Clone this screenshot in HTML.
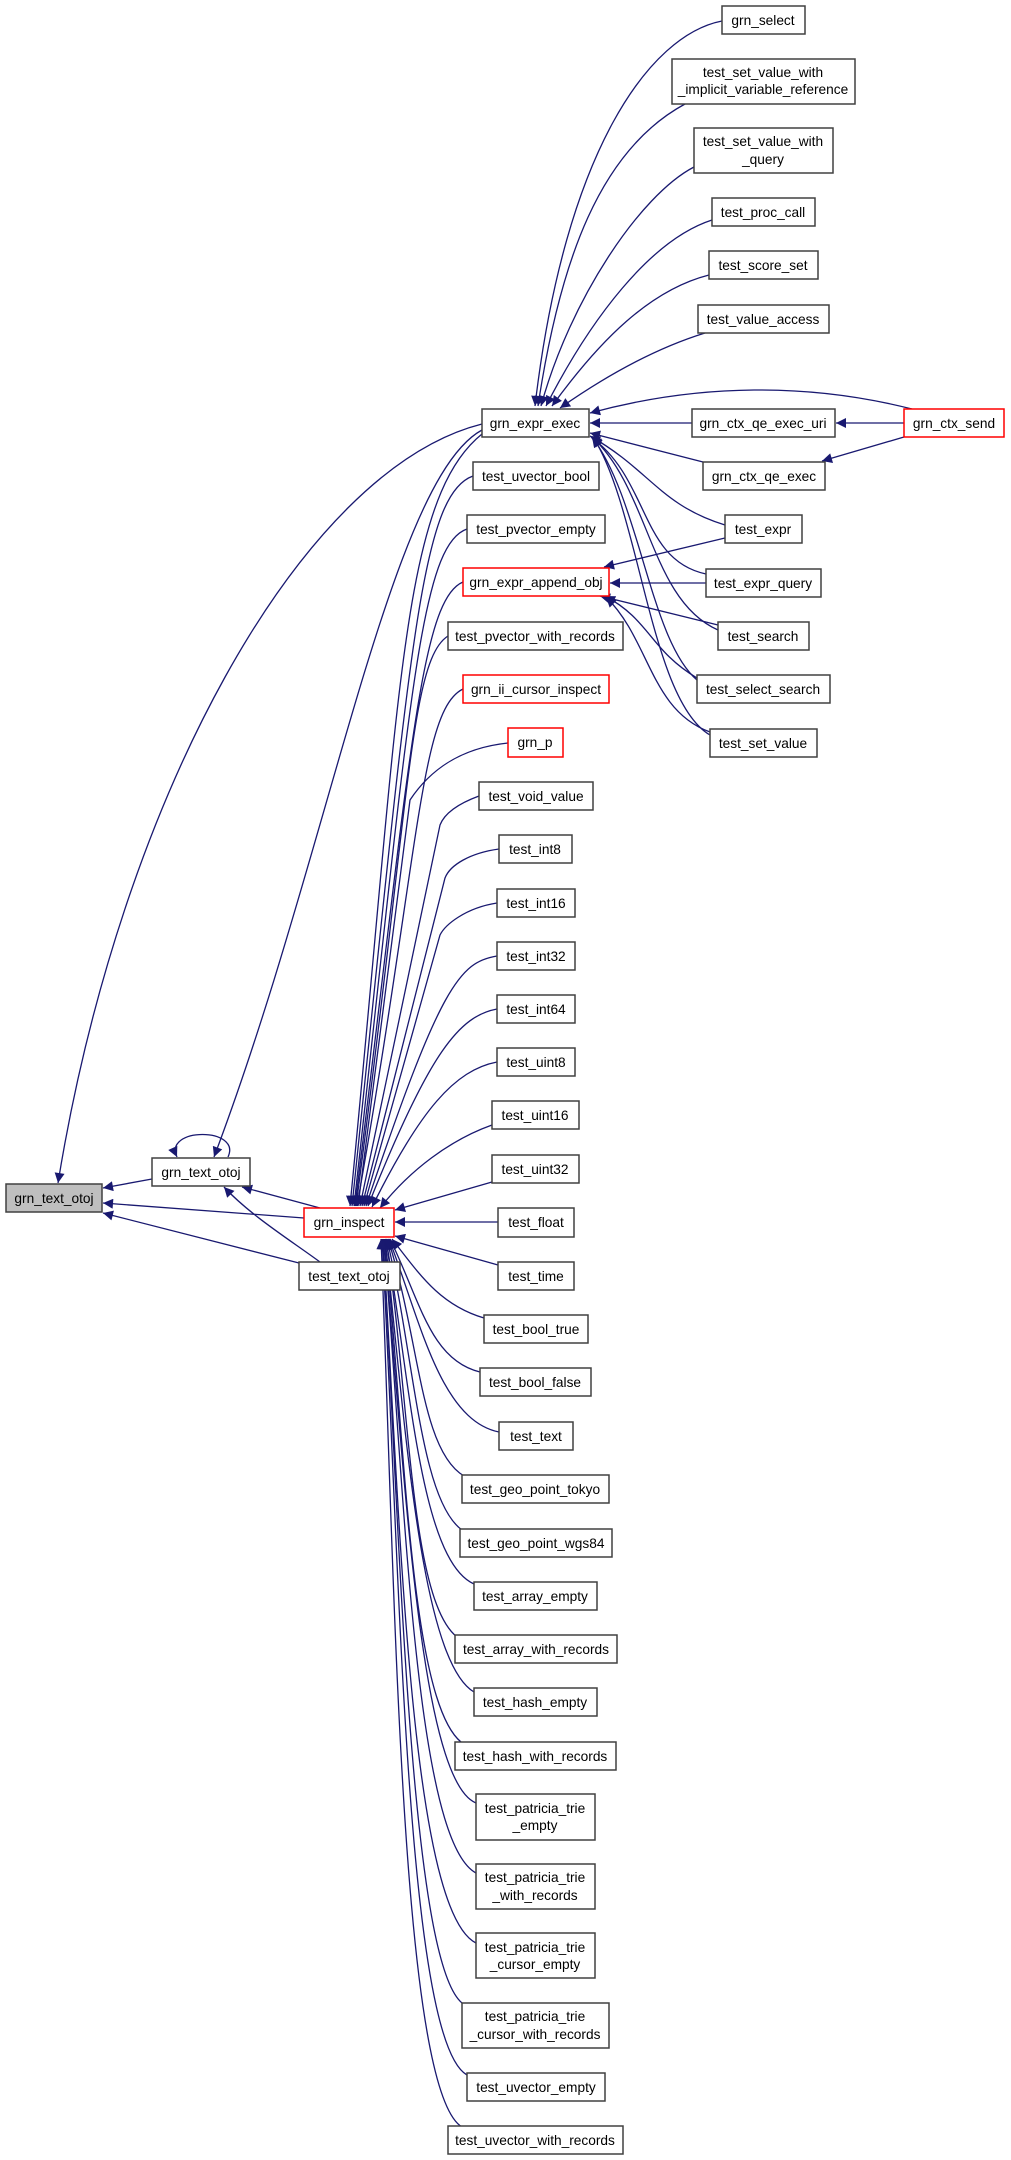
<!DOCTYPE html>
<html><head><meta charset="utf-8"><style>
html,body{margin:0;padding:0;background:#fff;}
svg{display:block}
text{font-family:"Liberation Sans",sans-serif;font-size:13.7px;fill:#000;text-anchor:middle}
.n{fill:#fff;stroke:#404040;stroke-width:1.5}
.r{fill:#fff;stroke:#ff0000;stroke-width:1.5}
.e{fill:none;stroke:#191970;stroke-width:1.3;marker-end:url(#a)}
</style></head><body>
<svg width="1011" height="2160" viewBox="0 0 1011 2160" xmlns="http://www.w3.org/2000/svg">
<defs><marker id="a" viewBox="0 0 10 10" refX="10" refY="5" markerWidth="14" markerHeight="10" markerUnits="userSpaceOnUse" orient="auto"><path d="M0,0 L10,5 L0,10z" fill="#191970"/></marker></defs>

<!-- edges to gray -->
<path class="e" d="M482,424 C300,470 120,800 58,1183"/>
<path class="e" d="M152,1179 L103,1188"/>
<path class="e" d="M304,1218 L103,1203"/>
<path class="e" d="M299,1263 L103,1213"/>
<path class="e" d="M228,1157 C242,1127 163,1127 177,1157"/>
<path class="e" d="M482,430 C390,480 330,850 214,1157"/>
<path class="e" d="M320,1208 L242,1187"/>
<path class="e" d="M320,1262 C290,1240 250,1215 224,1187"/>

<!-- edges to grn_expr_exec -->
<path class="e" d="M722,21 C650,35 565,150 535,406"/>
<path class="e" d="M685,104 C600,150 560,260 538,406"/>
<path class="e" d="M694,167 C640,195 570,300 541,406"/>
<path class="e" d="M712,220 C650,240 590,320 546,406"/>
<path class="e" d="M709,275 C650,290 600,340 552,406"/>
<path class="e" d="M705,333 C650,350 600,380 560,408"/>
<path class="e" d="M912,409 C810,383 700,383 590,413"/>
<path class="e" d="M692,423 L590,423"/>
<path class="e" d="M703,462 L590,433"/>
<path class="e" d="M725,525 C660,505 650,470 590,436"/>
<path class="e" d="M706,574 C640,560 650,480 591,437"/>
<path class="e" d="M718,630 C650,600 650,490 592,437"/>
<path class="e" d="M697,680 C650,640 640,500 592,437"/>
<path class="e" d="M710,735 C650,700 640,510 593,437"/>
<!-- ctx_send -->
<path class="e" d="M904,423 L836,423"/>
<path class="e" d="M904,437 L822,461"/>
<!-- to append_obj -->
<path class="e" d="M725,538 L604,567"/>
<path class="e" d="M706,583 L610,583"/>
<path class="e" d="M718,625 L600,596"/>
<path class="e" d="M697,678 C650,650 650,620 605,596"/>
<path class="e" d="M710,732 C650,710 650,640 606,597"/>

<!-- top edges to grn_inspect -->
<path class="e" d="M482,434 C400,500 400,700 350,1206"/>
<path class="e" d="M473,476 C420,495 410,650 352,1206"/>
<path class="e" d="M467,529 C420,545 410,700 354,1206"/>
<path class="e" d="M463,582 C420,600 410,760 355,1206"/>
<path class="e" d="M448,636 C410,660 410,800 356,1206"/>
<path class="e" d="M463,689 C420,710 420,850 357,1206"/>
<path class="e" d="M508,743 C460,748 430,770 410,800 L358,1206"/>
<path class="e" d="M479,796 C460,803 445,812 440,825 L360,1206"/>
<path class="e" d="M499,849 C470,853 450,865 445,878 L362,1206"/>
<path class="e" d="M497,903 C465,908 445,925 440,935 L364,1206"/>
<path class="e" d="M497,956 C460,962 440,985 366,1206"/>
<path class="e" d="M497,1009 C460,1016 430,1050 368,1206"/>
<path class="e" d="M497,1062 C455,1070 420,1110 372,1207"/>
<path class="e" d="M492,1125 C450,1140 410,1170 380,1208"/>
<path class="e" d="M492,1182 L395,1210"/>
<path class="e" d="M498,1222 L395,1222"/>
<!-- bottom edges -->
<path class="e" d="M498,1265 L395,1236"/>
<path class="e" d="M484,1318 C440,1305 420,1275 392,1239"/>
<path class="e" d="M480,1372 C430,1360 420,1300 390,1239"/>
<path class="e" d="M499,1432 C440,1420 420,1320 389,1239"/>
<path class="e" d="M464,1476 C420,1450 420,1340 388,1239"/>
<path class="e" d="M462,1530 C420,1500 415,1360 387,1239"/>
<path class="e" d="M474,1584 C420,1560 410,1380 386,1239"/>
<path class="e" d="M457,1637 C410,1600 410,1400 386,1239"/>
<path class="e" d="M474,1692 C420,1660 405,1420 385,1239"/>
<path class="e" d="M461,1742 C410,1700 405,1440 385,1239"/>
<path class="e" d="M476,1803 C420,1780 405,1480 384,1239"/>
<path class="e" d="M476,1873 C415,1840 405,1500 384,1239"/>
<path class="e" d="M476,1943 C410,1910 400,1520 383,1239"/>
<path class="e" d="M462,2003 C410,1960 400,1540 383,1239"/>
<path class="e" d="M467,2075 C405,2040 400,1560 382,1239"/>
<path class="e" d="M462,2127 C400,2090 395,1580 381,1239"/>

<!-- nodes -->
<rect x="6" y="1184" width="96" height="28" fill="#bfbfbf" stroke="#404040" stroke-width="1.5"/><text x="54" y="1203">grn_text_otoj</text>
<rect class="n" x="152" y="1158" width="98" height="28"/><text x="201" y="1177">grn_text_otoj</text>
<rect class="r" x="304" y="1208" width="90" height="29"/><text x="349" y="1227">grn_inspect</text>
<rect class="n" x="299" y="1262" width="101" height="28"/><text x="349" y="1281">test_text_otoj</text>
<rect class="n" x="482" y="409" width="107" height="28"/><text x="535" y="428">grn_expr_exec</text>
<rect class="n" x="722" y="6" width="83" height="28"/><text x="763" y="25">grn_select</text>
<rect class="n" x="672" y="59" width="183" height="45"/><text x="763" y="77">test_set_value_with</text><text x="763" y="94">_implicit_variable_reference</text>
<rect class="n" x="694" y="128" width="139" height="45"/><text x="763" y="146">test_set_value_with</text><text x="763" y="164">_query</text>
<rect class="n" x="712" y="198" width="103" height="28"/><text x="763" y="217">test_proc_call</text>
<rect class="n" x="709" y="251" width="109" height="28"/><text x="763" y="270">test_score_set</text>
<rect class="n" x="698" y="305" width="131" height="28"/><text x="763" y="324">test_value_access</text>
<rect class="n" x="692" y="409" width="143" height="28"/><text x="763" y="428">grn_ctx_qe_exec_uri</text>
<rect class="r" x="904" y="409" width="100" height="28"/><text x="954" y="428">grn_ctx_send</text>
<rect class="n" x="473" y="462" width="126" height="28"/><text x="536" y="481">test_uvector_bool</text>
<rect class="n" x="703" y="462" width="122" height="28"/><text x="764" y="481">grn_ctx_qe_exec</text>
<rect class="n" x="467" y="515" width="138" height="28"/><text x="536" y="534">test_pvector_empty</text>
<rect class="n" x="725" y="515" width="77" height="28"/><text x="763" y="534">test_expr</text>
<rect class="r" x="463" y="568" width="146" height="28"/><text x="536" y="587">grn_expr_append_obj</text>
<rect class="n" x="706" y="569" width="115" height="28"/><text x="763" y="588">test_expr_query</text>
<rect class="n" x="448" y="622" width="175" height="28"/><text x="535" y="641">test_pvector_with_records</text>
<rect class="n" x="718" y="622" width="91" height="28"/><text x="763" y="641">test_search</text>
<rect class="r" x="463" y="675" width="146" height="28"/><text x="536" y="694">grn_ii_cursor_inspect</text>
<rect class="n" x="697" y="675" width="133" height="28"/><text x="763" y="694">test_select_search</text>
<rect class="r" x="508" y="728" width="55" height="29"/><text x="535" y="747">grn_p</text>
<rect class="n" x="710" y="729" width="107" height="28"/><text x="763" y="748">test_set_value</text>
<rect class="n" x="479" y="782" width="114" height="28"/><text x="536" y="801">test_void_value</text>
<rect class="n" x="499" y="835" width="73" height="28"/><text x="535" y="854">test_int8</text>
<rect class="n" x="497" y="889" width="78" height="28"/><text x="536" y="908">test_int16</text>
<rect class="n" x="497" y="942" width="78" height="28"/><text x="536" y="961">test_int32</text>
<rect class="n" x="497" y="995" width="78" height="28"/><text x="536" y="1014">test_int64</text>
<rect class="n" x="497" y="1048" width="78" height="28"/><text x="536" y="1067">test_uint8</text>
<rect class="n" x="492" y="1101" width="87" height="28"/><text x="535" y="1120">test_uint16</text>
<rect class="n" x="492" y="1155" width="87" height="28"/><text x="535" y="1174">test_uint32</text>
<rect class="n" x="498" y="1208" width="76" height="29"/><text x="536" y="1227">test_float</text>
<rect class="n" x="498" y="1262" width="76" height="28"/><text x="536" y="1281">test_time</text>
<rect class="n" x="484" y="1315" width="104" height="28"/><text x="536" y="1334">test_bool_true</text>
<rect class="n" x="480" y="1368" width="111" height="28"/><text x="535" y="1387">test_bool_false</text>
<rect class="n" x="499" y="1422" width="74" height="28"/><text x="536" y="1441">test_text</text>
<rect class="n" x="462" y="1475" width="147" height="28"/><text x="535" y="1494">test_geo_point_tokyo</text>
<rect class="n" x="460" y="1529" width="152" height="28"/><text x="536" y="1548">test_geo_point_wgs84</text>
<rect class="n" x="474" y="1582" width="123" height="28"/><text x="535" y="1601">test_array_empty</text>
<rect class="n" x="455" y="1635" width="162" height="28"/><text x="536" y="1654">test_array_with_records</text>
<rect class="n" x="474" y="1688" width="123" height="28"/><text x="535" y="1707">test_hash_empty</text>
<rect class="n" x="455" y="1742" width="161" height="28"/><text x="535" y="1761">test_hash_with_records</text>
<rect class="n" x="476" y="1794" width="119" height="46"/><text x="535" y="1813">test_patricia_trie</text><text x="535" y="1830">_empty</text>
<rect class="n" x="476" y="1864" width="119" height="45"/><text x="535" y="1882">test_patricia_trie</text><text x="535" y="1900">_with_records</text>
<rect class="n" x="476" y="1933" width="119" height="45"/><text x="535" y="1952">test_patricia_trie</text><text x="535" y="1969">_cursor_empty</text>
<rect class="n" x="462" y="2003" width="147" height="45"/><text x="535" y="2021">test_patricia_trie</text><text x="535" y="2039">_cursor_with_records</text>
<rect class="n" x="467" y="2073" width="138" height="28"/><text x="536" y="2092">test_uvector_empty</text>
<rect class="n" x="448" y="2126" width="175" height="28"/><text x="535" y="2145">test_uvector_with_records</text>
</svg>
</body></html>
